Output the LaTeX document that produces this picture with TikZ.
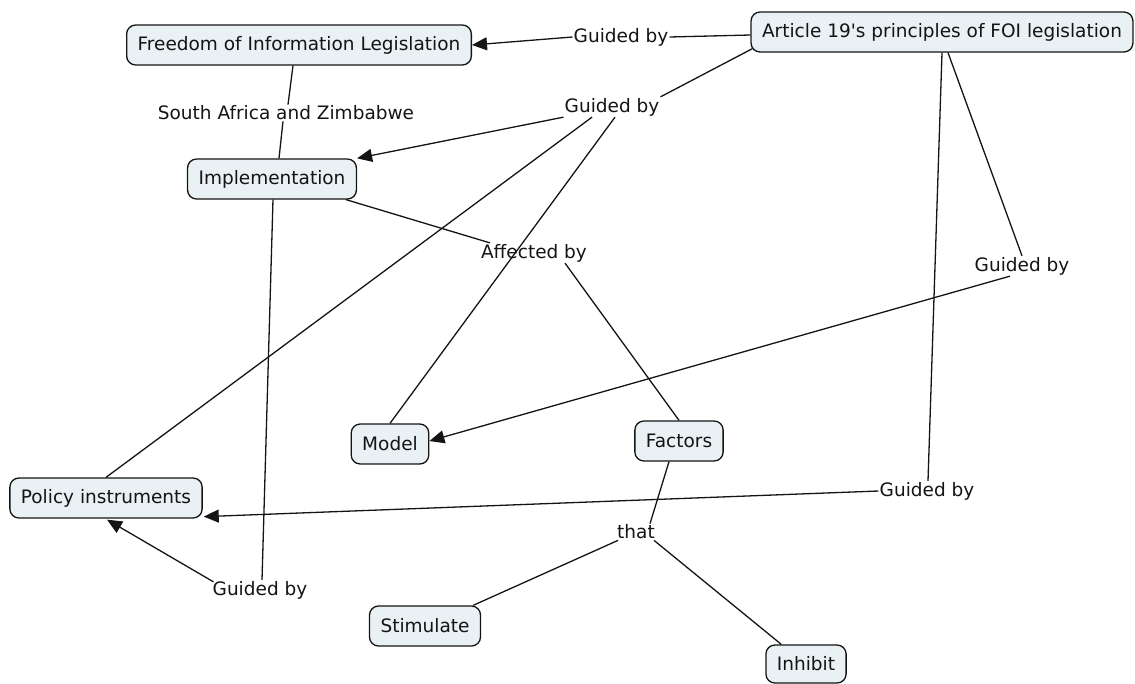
\documentclass[tikz,border=0pt]{standalone}
\usepackage{fontspec}
\setmainfont{DejaVu Sans}[Ligatures=TeXOff]
\usetikzlibrary{arrows.meta,calc}
\definecolor{boxfill}{HTML}{EAF1F4}
\definecolor{ink}{HTML}{141414}
\tikzset{
  concept/.style={draw=ink, fill=boxfill, line width=1.3pt, rounded corners=9pt,
    minimum height=40pt, inner xsep=11pt, inner ysep=2pt, text=ink,
    font=\fontsize{18.5}{20}\selectfont},
  linkword/.style={inner sep=1pt, text=ink, font=\fontsize{18.5}{20}\selectfont},
  conn/.style={draw=ink, line width=1.3pt},
  arr/.style={conn, -{Triangle[length=15pt,width=13pt]}}
}
\begin{document}
\begin{tikzpicture}[x=1pt,y=-1pt]
\useasboundingbox (0,0) rectangle (1135,683);
% concepts
\node[concept] (foi) at (299,45) {Freedom of Information Legislation};
\node[concept] (art) at (942,32) {Article 19's principles of FOI legislation};
\node[concept] (impl) at (272,179) {Implementation};
\node[concept] (model) at (390,444) {Model};
\node[concept] (fac) at (679,441) {Factors};
\node[concept] (pol) at (106,498) {Policy instruments};
\node[concept] (stim) at (425,626) {Stimulate};
\node[concept, minimum height=38pt] (inh) at (806,664) {Inhibit};
% linking words
\node[linkword] (g1) at (621,37) {Guided by};
\node[linkword] (sa) at (286,113) {South Africa and Zimbabwe};
\node[linkword] (g2) at (612,107) {Guided by};
\node[linkword] (aff) at (534,253) {Affected by};
\node[linkword] (g3) at (1022,266) {Guided by};
\node[linkword] (g4) at (927,491) {Guided by};
\node[linkword] (g5) at (260,590) {Guided by};
\node[linkword] (that) at (636,532) {that};
% connectors
\draw[conn] ($(art.west)+(0,3)$) -- (g1.east);
\draw[arr] (g1.west) -- (foi.east);
\draw[conn] ($(foi.south)+(-6,0)$) -- ($(sa.north)+(2,0)$);
\draw[conn] ($(sa.south)+(-3,0)$) -- ($(impl.north)+(7,0)$);
\draw[conn] ($(art.south west)+(2,-4)$) -- (g2.north east);
\draw[arr] (g2.south west) -- (impl.north east);
\draw[conn] ($(g2.south)+(-20,0)$) -- (pol.north);
\draw[conn] ($(g2.south)+(3,0)$) -- (model.north);
\draw[conn] ($(impl.south east)+(-11,0)$) -- ($(aff.north west)+(10,0)$);
\draw[conn] ($(aff.south)+(31,0)$) -- (fac.north);
\draw[conn] ($(art.south)+(6,0)$) -- (g3.north);
\draw[arr] ($(g3.south)+(-12,0)$) -- ($(model.east)+(0,-3)$);
\draw[conn] (art.south) -- ($(g4.north)+(1,0)$);
\draw[arr] (g4.west) -- ($(pol.south east)+(1,-2)$);
\draw[conn] ($(impl.south)+(1,0)$) -- ($(g5.north)+(2,0)$);
\draw[arr] ($(g5.north west)+(2,2)$) -- ($(pol.south)+(1,1)$);
\draw[conn] ($(fac.south)+(-10,0)$) -- ($(that.north)+(14,0)$);
\draw[conn] ($(that.south west)+(2,0)$) -- ($(stim.north east)+(-8,0)$);
\draw[conn] ($(that.south east)+(-2,0)$) -- ($(inh.north west)+(16,0)$);
\end{tikzpicture}
\end{document}
